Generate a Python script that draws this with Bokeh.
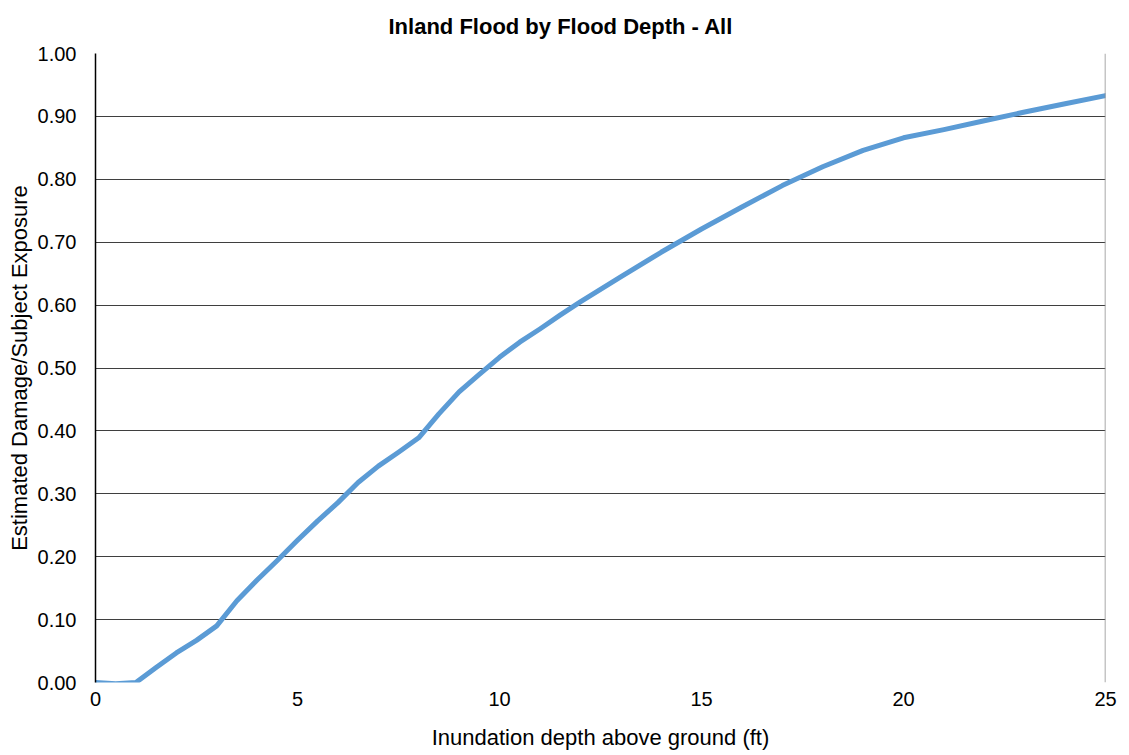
from bokeh.plotting import figure
from bokeh.embed import file_html
from bokeh.resources import INLINE
from bokeh.models import FixedTicker, Range1d, Span, CustomJSTickFormatter

# Data
depth_ft = [0, 0.5, 1, 1.5, 2, 2.5, 3, 3.5, 4, 4.5, 5, 5.5, 6, 6.5, 7, 7.5, 8, 8.5, 9, 9.5,
            10, 10.5, 11, 11.5, 12, 13, 14, 15, 16, 17, 18, 19, 20, 21, 22, 23, 24, 25]
damage_ratio = [0.000, -0.002, 0.000, 0.024, 0.047, 0.067, 0.090, 0.130, 0.163, 0.194, 0.226, 0.257,
                0.286, 0.318, 0.344, 0.366, 0.389, 0.427, 0.462, 0.490, 0.517, 0.541, 0.562, 0.584,
                0.605, 0.645, 0.684, 0.721, 0.756, 0.790, 0.820, 0.846, 0.866, 0.879, 0.893, 0.907,
                0.920, 0.933]

x_ticks = [0, 5, 10, 15, 20, 25]
y_ticks = [0.0, 0.1, 0.2, 0.3, 0.4, 0.5, 0.6, 0.7, 0.8, 0.9, 1.0]

title_text = "Inland Flood by Flood Depth - All"
x_label = "Inundation depth above ground (ft)"
y_label = "Estimated Damage/Subject Exposure"

FONT = "Liberation Sans"

p = figure(width=1129, height=755, output_backend="svg", toolbar_location=None,
           x_range=Range1d(0, 25), y_range=Range1d(0, 1.0),
           min_border_left=95, min_border_right=24, min_border_top=53, min_border_bottom=73,
           title=title_text)

p.title.text_font = FONT
p.title.text_font_size = "22px"
p.title.text_font_style = "bold"
p.title.text_color = "#000000"
p.title.align = "left"
p.title.offset = 293
p.title.vertical_align = "top"
p.title.standoff = 26

p.outline_line_color = None
p.background_fill_color = "white"
p.border_fill_color = "white"

# axes
p.xaxis.ticker = FixedTicker(ticks=x_ticks)
p.yaxis.ticker = FixedTicker(ticks=y_ticks)
p.yaxis.formatter = CustomJSTickFormatter(code="return tick.toFixed(2);")
for ax in (p.xaxis[0], p.yaxis[0]):
    ax.major_label_text_font = FONT
    ax.major_label_text_font_size = "20px"
    ax.major_label_text_color = "#000000"
    ax.axis_label_text_font = FONT
    ax.axis_label_text_font_size = "22px"
    ax.axis_label_text_font_style = "normal"
    ax.axis_label_text_color = "#000000"
    ax.major_tick_out = 0
    ax.major_tick_in = 0
    ax.minor_tick_out = 0
    ax.minor_tick_in = 0

p.xaxis.axis_label = x_label
p.yaxis.axis_label = y_label
p.xaxis.axis_line_color = None
p.yaxis.axis_line_color = "#000000"
p.yaxis.axis_line_width = 1.5
p.yaxis.major_label_standoff = 19
p.xaxis.major_label_standoff = 9
p.yaxis.axis_label_standoff = 3
p.xaxis.axis_label_standoff = 16

p.xgrid.grid_line_color = None
p.ygrid.grid_line_color = "#3f3f3f"
p.ygrid.grid_line_width = 1

# right border line
p.add_layout(Span(location=25, dimension="height", line_color="#8c8c8c", line_width=1.5))

p.line(depth_ft, damage_ratio, line_color="#5B9BD5", line_width=5, line_join="round", line_cap="round")

open("out.html", "w").write(file_html(p, INLINE))
